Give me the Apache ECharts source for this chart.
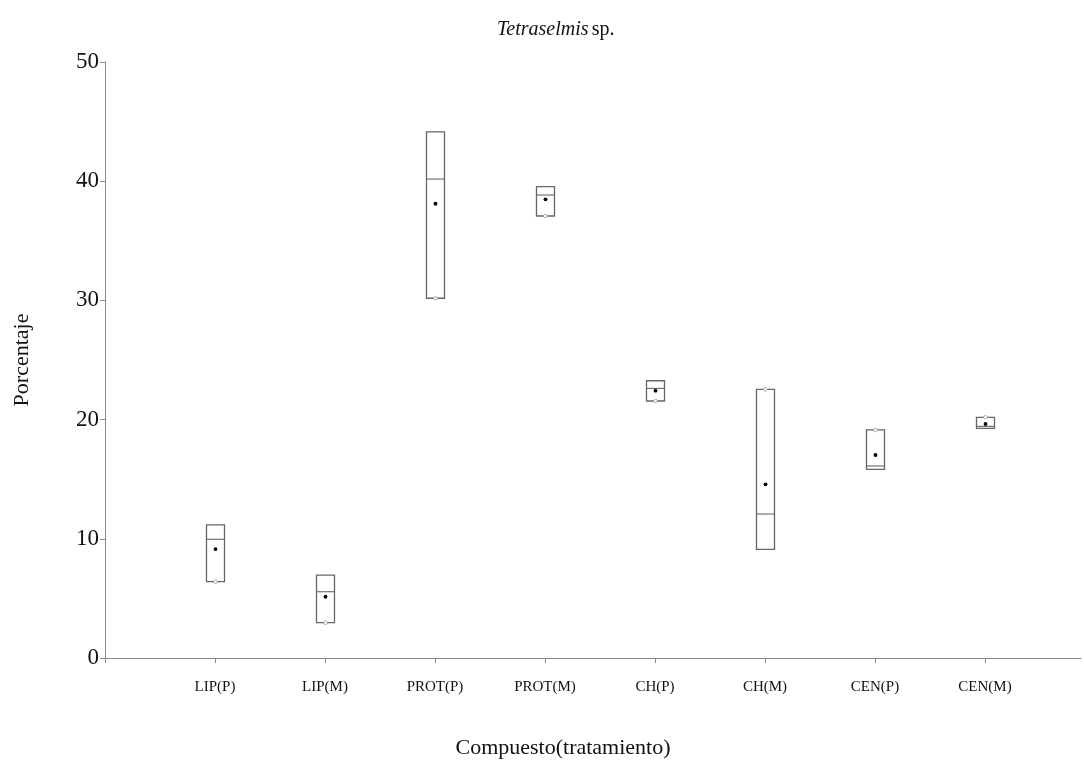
<!DOCTYPE html>
<html>
<head>
<meta charset="utf-8">
<script src="https://cdn.jsdelivr.net/npm/echarts@6/dist/echarts.min.js"></script>
<style>
  html, body { margin: 0; padding: 0; background: #fff; }
  #chart { width: 1084px; height: 767px; }
</style>
</head>
<body>
<div id="chart"></div>
<script>
// Composition of Tetraselmis sp. by compound and treatment
const categories = ['LIP(P)', 'LIP(M)', 'PROT(P)', 'PROT(M)', 'CH(P)', 'CH(M)', 'CEN(P)', 'CEN(M)'];
const lowValues    = [6.40, 2.96, 30.18, 37.08, 21.56,  9.12, 15.83, 19.27];
const highValues   = [11.16, 6.96, 44.13, 39.54, 23.26, 22.54, 19.13, 20.19];
const medianValues = [9.96, 5.56, 40.18, 38.84, 22.62, 12.08, 16.11, 19.43];
const meanValues   = [9.14, 5.14, 38.11, 38.48, 22.43, 14.57, 17.03, 19.63];
// end of each box where the whisker cap marker sits
const capValues    = [6.40, 2.96, 30.18, 37.08, 21.56, 22.54, 19.13, 20.19];
const yTicks = [0, 10, 20, 30, 40, 50];

const FONT = '"Liberation Serif", "DejaVu Serif", serif';
const AXIS_COLOR = '#8a8a8a';
const BOX_COLOR = '#666666';
const BOX_HALF = 9;
// the category axis runs past the last group and is cut at the page edge
const X_MAX = 8.873;

const rows = categories.map((c, i) => [i + 1, lowValues[i], highValues[i], medianValues[i], meanValues[i], capValues[i]]);
const tickPositions = [0].concat(categories.map((c, i) => i + 1));
const labelPositions = categories.map((c, i) => i + 1);

const chart = echarts.init(document.getElementById('chart'), null, { renderer: 'canvas' });

chart.setOption({
  animation: false,
  backgroundColor: '#fff',
  grid: { left: 105, top: 62, right: 3, bottom: 109, containLabel: false },
  graphic: [
    {
      type: 'text', left: 497, top: 20,
      style: {
        text: '{i|Tetraselmis} {n|sp.}',
        rich: {
          i: { fontFamily: FONT, fontSize: 20, fontStyle: 'italic', fill: '#111' },
          n: { fontFamily: FONT, fontSize: 20, fill: '#111' }
        }
      }
    },
    {
      type: 'text', x: 563, y: 748,
      style: {
        text: 'Compuesto(tratamiento)', fontFamily: FONT, fontSize: 22, fill: '#111',
        textAlign: 'center', textVerticalAlign: 'middle'
      }
    }
  ],
  xAxis: {
    type: 'value', min: 0, max: X_MAX, interval: 1,
    splitLine: { show: false },
    axisLine: { lineStyle: { color: AXIS_COLOR, width: 1 } },
    axisTick: { show: true, length: 5, customValues: tickPositions, lineStyle: { color: AXIS_COLOR } },
    axisLabel: {
      margin: 22, fontFamily: FONT, fontSize: 15, color: '#111',
      customValues: labelPositions,
      formatter: v => categories[Math.round(v) - 1] || ''
    }
  },
  yAxis: {
    type: 'value', min: yTicks[0], max: yTicks[yTicks.length - 1], interval: 10,
    name: 'Porcentaje', nameLocation: 'middle', nameGap: 72, nameRotate: 90,
    nameTextStyle: { fontFamily: FONT, fontSize: 22, color: '#111' },
    splitLine: { show: false },
    axisLine: { show: true, lineStyle: { color: AXIS_COLOR, width: 1 } },
    axisTick: { show: true, length: 5, lineStyle: { color: AXIS_COLOR } },
    axisLabel: { margin: 6, fontFamily: FONT, fontSize: 23, color: '#111' }
  },
  series: [{
    type: 'custom',
    data: rows,
    encode: { x: 0, y: [1, 2] },
    renderItem: function (params, api) {
      const x = api.value(0);
      const lo = api.coord([x, api.value(1)]);
      const hi = api.coord([x, api.value(2)]);
      const med = api.coord([x, api.value(3)]);
      const mn = api.coord([x, api.value(4)]);
      const cap = api.coord([x, api.value(5)]);
      const cx = Math.round(lo[0]) + 0.5;
      const lineStyle = { stroke: BOX_COLOR, lineWidth: 1.1, fill: null };
      return {
        type: 'group',
        children: [
          {
            type: 'rect',
            shape: { x: cx - BOX_HALF, y: hi[1], width: BOX_HALF * 2, height: lo[1] - hi[1] },
            style: { stroke: BOX_COLOR, lineWidth: 1.3, fill: 'rgba(0,0,0,0)' }
          },
          {
            type: 'line',
            shape: { x1: cx - BOX_HALF, y1: med[1], x2: cx + BOX_HALF, y2: med[1] },
            style: lineStyle
          },
          {
            type: 'circle',
            shape: { cx: cx, cy: cap[1], r: 1.8 },
            style: { stroke: '#999999', lineWidth: 0.8, fill: '#fff' }
          },
          {
            type: 'circle',
            shape: { cx: cx, cy: mn[1], r: 1.9 },
            style: { fill: '#000' }
          }
        ]
      };
    }
  }]
});
</script>
</body>
</html>
